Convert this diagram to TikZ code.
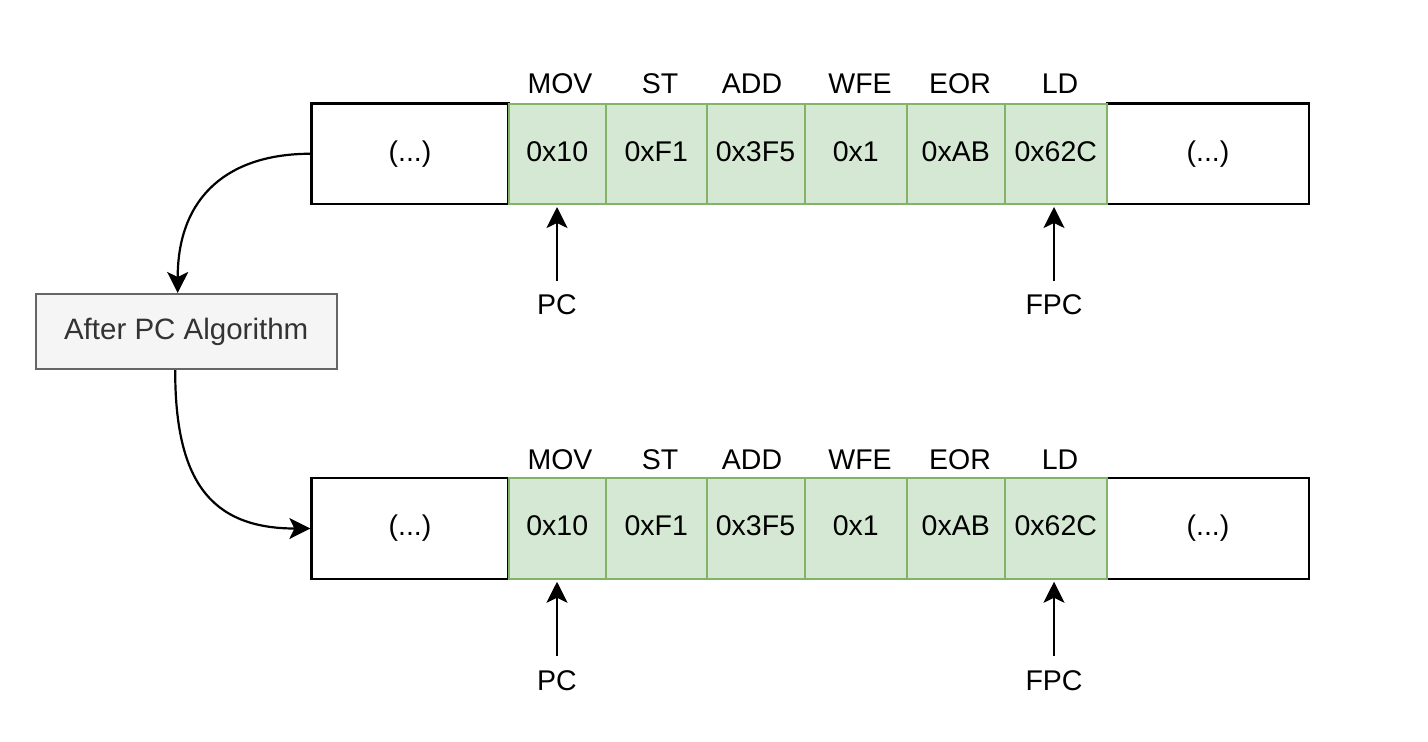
\documentclass[tikz,border=0pt]{standalone}
\usepackage{fontspec}
\setmainfont{Liberation Sans}
\usetikzlibrary{arrows.meta}
\definecolor{gfill}{HTML}{D5E8D4}
\definecolor{gline}{HTML}{82B366}
\definecolor{bfill}{HTML}{F5F5F5}
\definecolor{bline}{HTML}{666666}
\definecolor{btext}{HTML}{333333}
\begin{document}
\begin{tikzpicture}[x=1pt,y=-1pt,
  txt/.style={font=\fontsize{28.5}{34}\selectfont, inner sep=0pt, text height=20.4pt, text depth=0pt},
  cellbox/.style={draw=black, line width=2.3pt, fill=white, minimum height=100.5pt, inner sep=0pt,
    font=\fontsize{28.5}{34}\selectfont, text height=20.4pt, text depth=5.5pt},
  gcell/.style={cellbox, draw=gline, fill=gfill, line width=2pt},
  algbox/.style={draw=bline, fill=bfill, text=btext, line width=2pt, minimum width=301pt, minimum height=75pt,
    inner sep=0pt, font=\fontsize{29.5}{35}\selectfont, text height=21pt, text depth=6pt},
  conn/.style={line width=2.2pt, -{Stealth[length=21pt,width=21pt,inset=5pt]}},
]
\useasboundingbox (0,0) rectangle (1428,742);
\fill[white] (0,0) rectangle (1428,742);

\foreach \r/\cy/\ly/\py/\ay in {1/153.75/83.3/304/281, 2/528.5/459/680/656}{
  \node[cellbox, minimum width=197pt] (l\r) at (410,\cy) {(...)};
  \node[cellbox, minimum width=202pt] (r\r) at (1208,\cy) {(...)};
  \node[gcell, minimum width=97.5pt]  (a\r) at (557.25,\cy) {0x10};
  \node[gcell, minimum width=100.5pt] (b\r) at (656.25,\cy) {0xF1};
  \node[gcell, minimum width=98pt]    (c\r) at (755.5,\cy) {0x3F5};
  \node[gcell, minimum width=102.5pt] (d\r) at (855.75,\cy) {0x1};
  \node[gcell, minimum width=97.5pt]  (e\r) at (955.75,\cy) {0xAB};
  \node[gcell, minimum width=102.5pt] (f\r) at (1055.75,\cy) {0x62C};
  \node[txt] (ta\r) at (560,\ly) {MOV};
  \node[txt] (tb\r) at (660,\ly) {ST};
  \node[txt] (tc\r) at (752,\ly) {ADD};
  \node[txt] (td\r) at (860,\ly) {WFE};
  \node[txt] (te\r) at (960,\ly) {EOR};
  \node[txt] (tf\r) at (1060,\ly) {LD};
  \node[txt] (pc\r) at (557,\py) {PC};
  \node[txt] (fpc\r) at (1054,\py) {FPC};
  \coordinate (pcs\r) at (557,\ay);
  \coordinate (fpcs\r) at (1054,\ay);
  \draw[conn, shorten >=2pt] (pcs\r) -- (pcs\r |- a\r.south);
  \draw[conn, shorten >=2pt] (fpcs\r) -- (fpcs\r |- f\r.south);
}

\node[algbox] (alg) at (186.2,331.5) {After PC Algorithm};

\draw[conn] (l1.west) .. controls (230,153.75) and (177.7,195) .. ([xshift=-8.5pt]alg.north);
\draw[conn] ([xshift=-11pt]alg.south) .. controls (175,480) and (210,528.5) .. (l2.west);
\end{tikzpicture}
\end{document}
